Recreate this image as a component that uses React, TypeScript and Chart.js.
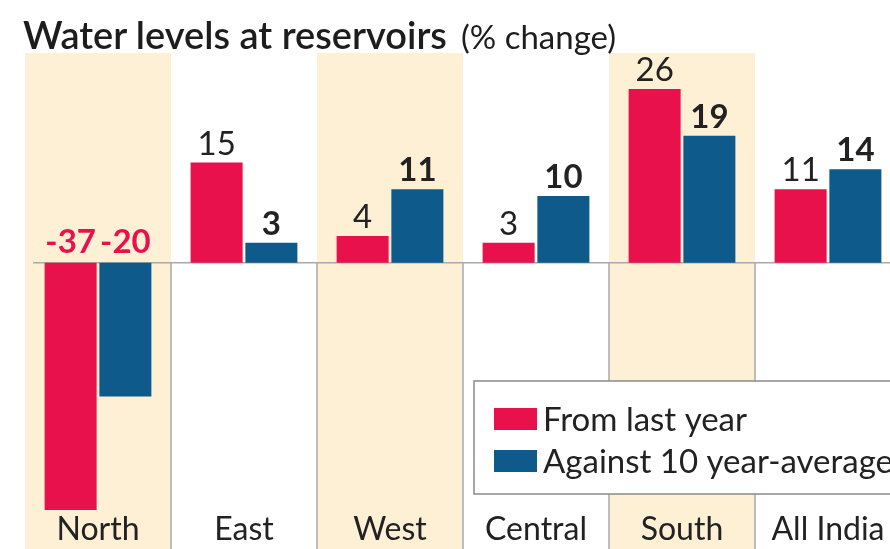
import React, { useEffect, useRef } from "react";
import { Chart, registerables } from "chart.js";

Chart.register(...registerables);

const categories = ["North", "East", "West", "Central", "South", "All India"];
const fromLastYear = [-37, 15, 4, 3, 26, 11];
const against10YearAverage = [-20, 3, 11, 10, 19, 14];
const seriesLabels = ["From last year", "Against 10 year-average"];
const shadedCategories = [true, false, true, false, true, false];
const titleText = "Water levels at reservoirs";
const subtitleText = "(% change)";

const RED = "#e8114b";
const BLUE = "#0d5a8b";
const BEIGE = "#fdf0d5";
const FONT = "Lato, 'Noto Sans', sans-serif";

const bandsPlugin = {
  id: "bands",
  beforeDraw(chart: any) {
    const { ctx, chartArea, scales } = chart;
    const x = scales.x;
    const w = x.width / categories.length;
    ctx.save();
    categories.forEach((_, i) => {
      const c = x.getPixelForValue(i);
      if (shadedCategories[i]) {
        ctx.fillStyle = BEIGE;
        ctx.fillRect(c - w / 2, chartArea.top, w, chart.height - chartArea.top);
      }
    });
    ctx.restore();
  },
  beforeDatasetsDraw(chart: any) {
    const { ctx, chartArea, scales } = chart;
    const x = scales.x;
    const y = scales.y;
    const w = x.width / categories.length;
    const zy = y.getPixelForValue(0);
    ctx.save();
    ctx.strokeStyle = "#a9a9a9";
    ctx.lineWidth = 1.5;
    for (let i = 1; i < categories.length; i++) {
      const bx = x.getPixelForValue(i) - w / 2;
      ctx.beginPath();
      ctx.moveTo(bx, zy);
      ctx.lineTo(bx, chart.height);
      ctx.stroke();
    }
    ctx.beginPath();
    ctx.moveTo(chartArea.left + 8, zy);
    ctx.lineTo(chartArea.right, zy);
    ctx.stroke();
    ctx.restore();
  },
};

const labelsPlugin = {
  id: "valueLabels",
  afterDatasetsDraw(chart: any) {
    const { ctx, scales } = chart;
    const zy = scales.y.getPixelForValue(0);
    ctx.save();
    ctx.textAlign = "center";
    ctx.textBaseline = "alphabetic";
    chart.data.datasets.forEach((ds: any, di: number) => {
      const meta = chart.getDatasetMeta(di);
      meta.data.forEach((bar: any, i: number) => {
        const v = ds.data[i];
        const neg = v < 0;
        ctx.font = `${di === 1 || neg ? 700 : 400} 33px ${FONT}`;
        ctx.fillStyle = neg ? RED : "#222222";
        const ty = neg ? zy - 10 : bar.y - 8;
        ctx.fillText(String(v), bar.x, ty);
      });
    });
    ctx.restore();
  },
};

const legendPlugin = {
  id: "boxLegend",
  afterDraw(chart: any) {
    const { ctx } = chart;
    const bx = 474, by = 381, bw = 480, bh = 113;
    ctx.save();
    ctx.fillStyle = "#ffffff";
    ctx.fillRect(bx, by, bw, bh);
    ctx.strokeStyle = "#8a8a8a";
    ctx.lineWidth = 1.5;
    ctx.strokeRect(bx, by, bw, bh);
    chart.data.datasets.forEach((ds: any, i: number) => {
      const rowY = by + 38 + i * 42;
      ctx.fillStyle = ds.backgroundColor;
      ctx.fillRect(bx + 20, rowY - 11, 43, 22);
      ctx.fillStyle = "#222222";
      ctx.font = `400 33px ${FONT}`;
      ctx.textAlign = "left";
      ctx.textBaseline = "middle";
      ctx.fillText(ds.label, bx + 69, rowY + 1);
    });
    ctx.restore();
  },
};

export default function App() {
  const ref = useRef<HTMLCanvasElement>(null);
  useEffect(() => {
    if (!ref.current) return;
    const chart = new Chart(ref.current, {
      type: "bar",
      data: {
        labels: categories,
        datasets: [
          {
            label: seriesLabels[0],
            data: fromLastYear,
            backgroundColor: RED,
            categoryPercentage: 0.75,
            barPercentage: 0.95,
          },
          {
            label: seriesLabels[1],
            data: against10YearAverage,
            backgroundColor: BLUE,
            categoryPercentage: 0.75,
            barPercentage: 0.95,
          },
        ],
      },
      options: {
        responsive: false,
        animation: false,
        layout: { padding: { left: 25, right: 19, top: 53, bottom: 1 } },
        plugins: {
          legend: { display: false },
          title: { display: false },
          tooltip: { enabled: false },
        },
        scales: {
          x: {
            grid: { display: false, drawTicks: false, tickLength: 0 },
            border: { display: false },
            ticks: {
              color: "#222222",
              font: { family: FONT, size: 32, weight: 400, lineHeight: 1.0 },
              padding: 2,
              maxRotation: 0,
              autoSkip: false,
            },
          },
          y: {
            display: false,
            min: -37.3,
            max: 31.4,
          },
        },
      },
      plugins: [bandsPlugin, labelsPlugin, legendPlugin],
    });
    return () => chart.destroy();
  }, []);

  return (
    <div
      style={{
        position: "fixed",
        left: 0,
        top: 0,
        width: 890,
        height: 549,
        overflow: "hidden",
        background: "#ffffff",
      }}
    >
      <canvas
        ref={ref}
        width={920}
        height={549}
        style={{ position: "absolute", left: 0, top: 0, width: 920, height: 549 }}
      />
      <div
        style={{
          position: "absolute",
          left: 23,
          top: 12,
          fontFamily: FONT,
          color: "#1d1d1d",
          whiteSpace: "nowrap",
          lineHeight: "44px",
        }}
      >
        <span style={{ fontSize: 38, fontWeight: 600 }}>{titleText}</span>
        <span style={{ fontSize: 33, fontWeight: 400, marginLeft: 14 }}>{subtitleText}</span>
      </div>
    </div>
  );
}
